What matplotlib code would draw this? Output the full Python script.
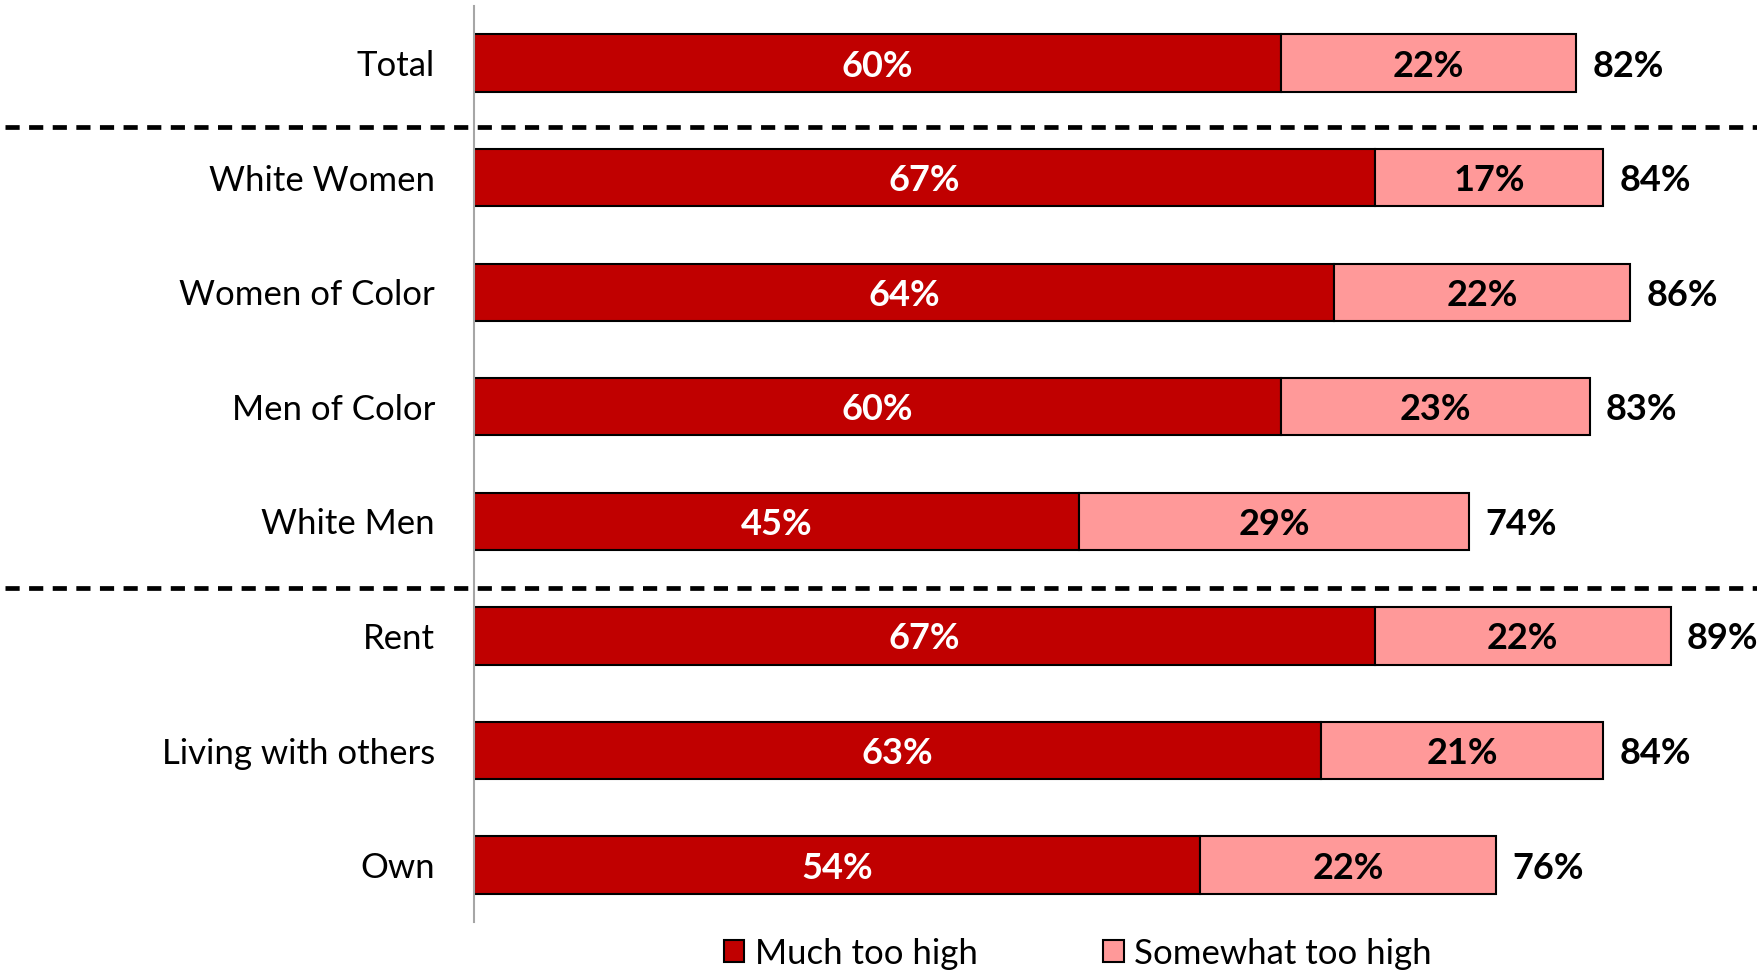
import matplotlib
matplotlib.use("Agg")
import matplotlib.pyplot as plt
from matplotlib.patches import Patch

plt.rcParams['font.family'] = ['Lato', 'DejaVu Sans']

groups = ["Total", "White Women", "Women of Color", "Men of Color", "White Men",
          "Rent", "Living with others", "Own"]
much_high = [60, 67, 64, 60, 45, 67, 63, 54]
somewhat_high = [22, 17, 22, 23, 29, 22, 21, 22]
totals = [82, 84, 86, 83, 74, 89, 84, 76]
series_names = ["Much too high", "Somewhat too high"]

dark_red = "#C00000"
light_red = "#FF9999"

fig = plt.figure(figsize=(17.58, 9.75), dpi=100)
ax = fig.add_axes([0.2696, 0.054, 0.7304, 0.94])

y = list(range(len(groups)))
ax.barh(y, much_high, height=0.5, color=dark_red, edgecolor="black", linewidth=1.5)
ax.barh(y, somewhat_high, left=much_high, height=0.5, color=light_red,
        edgecolor="black", linewidth=1.5)

for i in y:
    ax.text(much_high[i] / 2, i, f"{much_high[i]}%", ha="center",
            va="center_baseline", color="white", fontsize=26, fontweight="bold")
    ax.text(much_high[i] + somewhat_high[i] / 2, i, f"{somewhat_high[i]}%",
            ha="center", va="center_baseline", color="black", fontsize=26,
            fontweight="bold")
    ax.text(much_high[i] + somewhat_high[i] + 1.2, i, f"{totals[i]}%",
            ha="left", va="center_baseline", color="black", fontsize=26,
            fontweight="bold")

# dashed separators between the group blocks
for yy in (0.56, 4.58):
    ax.axhline(yy, xmin=-0.365, xmax=1.0, color="black", lw=3.4,
               dashes=(3, 2), clip_on=False)

ax.set_xlim(0, 95.5)
ax.set_ylim(7.5, -0.5)
ax.set_yticks(y)
ax.set_yticklabels(groups, fontsize=25, va="center_baseline")
ax.tick_params(axis="y", length=0, pad=28)
ax.set_xticks([])
for side in ("top", "right", "bottom"):
    ax.spines[side].set_visible(False)
ax.spines["left"].set_color("#A6A6A6")
ax.spines["left"].set_linewidth(1.5)

handles = [Patch(facecolor=dark_red, edgecolor="black", linewidth=1.5),
           Patch(facecolor=light_red, edgecolor="black", linewidth=1.5)]
fig.legend(handles, series_names, loc="center", bbox_to_anchor=(0.613, 0.022),
           ncol=2, frameon=False, fontsize=25, handlelength=0.6, handleheight=0.6,
           handletextpad=0.3, columnspacing=3.6)

fig.savefig("out.png", dpi=100)
